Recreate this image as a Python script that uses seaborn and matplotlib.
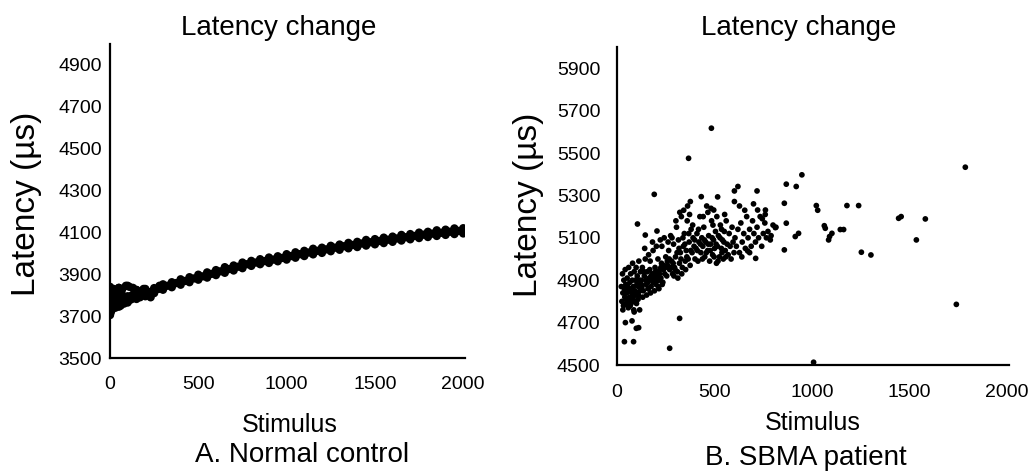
import matplotlib
matplotlib.use("Agg")
import matplotlib.pyplot as plt
import seaborn as sns
import pandas as pd

# panel A: normal control, band of latencies read every 25 stimuli
a_stim = [0, 25, 50, 75, 100, 125, 150, 175, 200, 225, 250, 275, 300, 325, 350, 375,
          400, 425, 450, 475, 500, 525, 550, 575, 600, 625, 650, 675, 700, 725, 750,
          775, 800, 825, 850, 875, 900, 925, 950, 975, 1000, 1025, 1050, 1075, 1100,
          1125, 1150, 1175, 1200, 1225, 1250, 1275, 1300, 1325, 1350, 1375, 1400, 1425,
          1450, 1475, 1500, 1525, 1550, 1575, 1600, 1625, 1650, 1675, 1700, 1725, 1750,
          1775, 1800, 1825, 1850, 1875, 1900, 1925, 1950, 1975, 2000]
a_latency = [3760, 3775, 3785, 3790, 3795, 3800, 3800, 3805, 3810, 3815, 3822, 3830,
             3838, 3845, 3850, 3858, 3862, 3868, 3875, 3880, 3886, 3890, 3897, 3902,
             3908, 3914, 3920, 3925, 3930, 3936, 3942, 3948, 3952, 3956, 3960, 3963,
             3967, 3970, 3974, 3978, 3983, 3987, 3992, 3996, 4000, 4004, 4008, 4012,
             4015, 4019, 4023, 4027, 4030, 4034, 4037, 4040, 4043, 4047, 4050, 4053,
             4056, 4059, 4062, 4065, 4068, 4071, 4074, 4077, 4080, 4083, 4086, 4089,
             4091, 4094, 4096, 4098, 4101, 4103, 4105, 4107, 4108]
# upper and lower edges of the band, read every 50 stimuli
a_edge_stim = [0, 50, 100, 150, 200, 250, 300, 350, 400, 450, 500, 550, 600, 650, 700,
               750, 800, 850, 900, 950, 1000, 1050, 1100, 1150, 1200, 1250, 1300, 1350,
               1400, 1450, 1500, 1550, 1600, 1650, 1700, 1750, 1800, 1850, 1900, 1950, 2000]
a_upper = [3840, 3835, 3845, 3825, 3830, 3834, 3852, 3862, 3876, 3886, 3898, 3909, 3920,
           3934, 3942, 3956, 3964, 3972, 3980, 3986, 3996, 4005, 4012, 4022, 4027, 4036,
           4042, 4050, 4055, 4064, 4068, 4075, 4080, 4088, 4092, 4099, 4103, 4110, 4113,
           4119, 4120]
a_lower = [3705, 3745, 3765, 3782, 3795, 3810, 3826, 3838, 3850, 3862, 3874, 3884, 3896,
           3907, 3918, 3929, 3940, 3948, 3954, 3962, 3970, 3979, 3987, 3995, 4002, 4010,
           4017, 4024, 4030, 4037, 4043, 4049, 4055, 4061, 4067, 4073, 4078, 4083, 4088,
           4092, 4095]
# wider scatter at the start of panel A
a_early_stim = [0, 5, 10, 15, 20, 30, 40, 50, 60, 70, 80, 90, 100, 110, 120, 130, 150,
                170, 190, 210, 0, 8, 25, 45, 65, 140, 230, 280]
a_early_latency = [3710, 3720, 3730, 3800, 3830, 3740, 3820, 3835, 3750, 3830, 3760,
                   3845, 3770, 3840, 3780, 3835, 3825, 3790, 3830, 3800, 3800, 3780,
                   3810, 3770, 3810, 3820, 3790, 3845]

# panel B: SBMA patient
b_stim = [22, 25, 28, 30, 33, 35, 38, 40, 42, 45, 48, 50, 52, 55, 57, 60, 62, 64, 66, 68,
          70, 72, 74, 76, 78, 80, 82, 84, 86, 88, 90, 92, 94, 96, 98, 100, 102, 104, 106,
          108, 110, 112, 114, 116, 118, 120, 105, 145, 205,
          125, 130, 135, 140, 145, 150, 155, 160, 165, 170, 175, 180, 185, 190, 195, 200,
          205, 210, 215, 220, 225, 230, 235, 240, 245, 250,
          128, 138, 148, 158, 168, 178, 188, 198, 208, 218, 228, 238, 248, 132, 152, 172,
          192, 212, 232, 142, 162, 182, 202, 222, 242,
          255, 260, 265, 270, 275, 280, 285, 290, 295, 300, 305, 310, 315, 320, 325, 330,
          335, 340, 345, 350, 355, 360, 365, 370, 375, 380, 385, 390, 395, 400,
          258, 268, 278, 288, 298, 308, 318, 328, 338, 348, 358, 368, 378, 388, 398, 262,
          282, 302, 322, 342, 362, 372, 292, 312, 332, 352,
          405, 410, 415, 420, 425, 430, 435, 440, 445, 450, 455, 460, 465, 470, 475, 480,
          485, 490, 495, 500, 505, 510, 515, 520, 525, 530, 535, 540, 545, 550, 555, 560,
          565, 570, 575, 580, 585, 590, 595, 600,
          412, 428, 438, 448, 458, 468, 478, 488, 498, 508, 518, 528, 538, 548, 558, 418,
          442, 466, 492, 512, 536, 552,
          605, 612, 620, 628, 635, 642, 650, 658, 665, 672, 680, 688, 695, 702, 710, 718,
          726, 734, 742, 750, 758, 766, 774, 790, 800, 815, 628, 655, 700, 745, 680, 640,
          760,
          484, 367, 191, 1786, 948, 868, 919, 858, 868, 858, 914, 931, 1022, 1029, 1063,
          1068, 1090, 1102, 1085, 1145, 1162, 1179, 1239, 1253, 1302, 1444, 1457, 1581,
          1535, 1740, 1008, 270, 321, 38, 85, 43, 77, 99, 111, 718, 721, 761, 620, 602,
          602, 516, 482, 496, 432, 376, 812, 786, 711, 670,
          30, 45, 58, 72, 88, 95, 110, 125, 150, 175, 200, 225, 160, 185, 215]
b_latency = [4870, 4800, 4930, 4840, 4780, 4900, 4860, 4820, 4950, 4880, 4790, 4840,
             4910, 4870, 4800, 4960, 4850, 4820, 4890, 4780,
             4930, 4860, 4800, 4840, 4900, 4980, 4820, 4870, 4760, 4940, 4800, 4850,
             4900, 4830, 4960, 4790, 4880, 4920, 4840, 4810, 4870, 4990, 4900, 4760,
             4850, 4940, 5165, 5113, 5132,
             4900, 4960, 4850, 4920, 5000, 4880, 4940, 4860, 4910, 4990, 4870, 4930,
             5040, 4900, 4960, 4880, 4920, 5000, 4860, 4950, 4910, 5060, 4890, 4970,
             4930, 5010,
             4870, 4940, 4900, 4890, 4950, 4900, 4920, 4940, 4900, 4930, 4980, 4950,
             4960, 4820, 4830, 4840, 4850, 4870, 4880, 5050, 5020, 5080, 5060, 5090, 5100,
             4920, 4970, 5040, 4950, 5110, 4990, 4930, 5070, 4960, 5010, 5150, 4940,
             5090, 4980, 5030, 5200, 4960, 5060, 5120, 4990, 5040, 5180, 5000, 5080,
             4970, 5140, 5030, 5100, 5060, 5000,
             4990, 5000, 4960, 4980, 4950, 5030, 5050, 5000, 5100, 5070, 5010, 5120,
             5040, 5160, 5090, 5080, 5100, 5180, 5220, 5230, 5250, 5210, 4920, 4910,
             4930, 4950,
             5050, 5120, 4990, 5080, 5200, 5030, 5100, 5060, 5150, 5010, 5080, 5250,
             5040, 5110, 4990, 5070, 5180, 5020, 5090, 5050, 5130, 4980, 5060, 5110,
             5010, 5160, 5050, 5090, 5000, 5130, 5040, 5180, 5070, 5020, 5120, 5060,
             5000, 5150, 5080, 5030,
             5040, 5070, 5000, 5090, 5030, 5070, 5040, 5100, 5010, 5070, 4990, 5100,
             5030, 5080, 5010, 5140, 5200, 5220, 5160, 5200, 5140, 5210,
             5100, 5060, 5140, 5030, 5170, 5080, 5120, 5050, 5200, 5100, 5140, 5060,
             5180, 5120, 5080, 5150, 5100, 5200, 5060, 5120, 5170, 5100, 5130, 5110,
             5160, 5150, 5250, 5230, 5260, 5190, 5030, 5010, 5210,
             5617, 5475, 5305, 5433, 5397, 5353, 5342, 5263, 5169, 5043, 5106, 5121,
             5252, 5230, 5157, 5145, 5106, 5121, 5090, 5139, 5139, 5252, 5252, 5032,
             5019, 5192, 5200, 5189, 5090, 4786, 4513, 4579, 4720, 4610, 4610, 4700,
             4708, 4673, 4676, 5321, 5231, 5231, 5342, 5321, 5271, 5293, 5239, 5231,
             5294, 5271, 5148, 5090, 5003, 5038,
             4760, 4810, 4770, 4790, 4750, 4800, 4830, 4880, 4900, 4920, 4940, 4960,
             4860, 4890, 4900]

x_ticks = [0, 500, 1000, 1500, 2000]
a_yticks = [3500, 3700, 3900, 4100, 4300, 4500, 4700, 4900]
b_yticks = [4500, 4700, 4900, 5100, 5300, 5500, 5700, 5900]

sns.set_theme(style="white")
plt.rcParams['font.family'] = ['Liberation Sans', 'DejaVu Sans']
plt.rcParams['text.color'] = 'black'

df_a = pd.DataFrame({"stim": a_stim + a_edge_stim + a_edge_stim + a_early_stim,
                     "lat": a_latency + a_upper + a_lower + a_early_latency})
df_b = pd.DataFrame({"stim": b_stim, "lat": b_latency})

fig = plt.figure(figsize=(10.29, 4.73), dpi=100)
ax_a = fig.add_axes([110 / 1029, 1 - 358 / 473, 355 / 1029, 314 / 473])
ax_b = fig.add_axes([617 / 1029, 1 - 365 / 473, 392 / 1029, 318 / 473])

sns.scatterplot(data=df_a, x="stim", y="lat", ax=ax_a, color="black", s=36,
                edgecolor="none", legend=False)
sns.scatterplot(data=df_b, x="stim", y="lat", ax=ax_b, color="black", s=17,
                edgecolor="none", legend=False)

for ax, yt, ylim, xpad, ypad in [(ax_a, a_yticks, (3500, 5000), 13, 6),
                                 (ax_b, b_yticks, (4500, 6000), 14, 12)]:
    ax.set_xlim(0, 2010)
    ax.set_ylim(*ylim)
    ax.set_xticks(x_ticks)
    ax.set_yticks(yt)
    ax.set_xlabel("")
    ax.set_ylabel("")
    ax.tick_params(axis="both", length=0, labelsize=14, colors="black")
    ax.tick_params(axis="x", pad=xpad)
    ax.tick_params(axis="y", pad=ypad)
    for side in ["top", "right"]:
        ax.spines[side].set_visible(False)
    for side in ["left", "bottom"]:
        ax.spines[side].set_color("black")
        ax.spines[side].set_linewidth(1.6)

# titles and labels
fig.text(279 / 1029, 1 - 28 / 473, "Latency change", fontsize=20, ha="center", va="center")
fig.text(799 / 1029, 1 - 28 / 473, "Latency change", fontsize=20, ha="center", va="center")
fig.text(27 / 1029, 1 - 204 / 473, "Latency (µs)", fontsize=24, rotation=90,
         ha="center", va="center")
fig.text(528 / 1029, 1 - 205 / 473, "Latency (µs)", fontsize=24, rotation=90,
         ha="center", va="center")
fig.text(290 / 1029, 1 - 425 / 473, "Stimulus", fontsize=18, ha="center", va="center")
fig.text(813 / 1029, 1 - 423 / 473, "Stimulus", fontsize=18, ha="center", va="center")
fig.text(302 / 1029, 1 - 455 / 473, "A. Normal control", fontsize=20, ha="center", va="center")
fig.text(806 / 1029, 1 - 458 / 473, "B. SBMA patient", fontsize=20, ha="center", va="center")

fig.savefig("out.png", dpi=100)
